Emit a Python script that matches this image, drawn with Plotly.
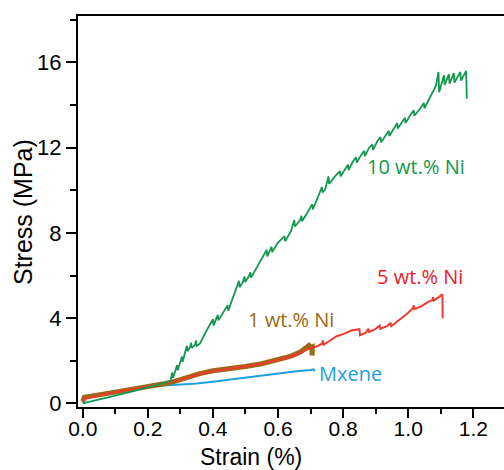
import plotly.graph_objects as go

# Tensile stress-strain curves of MXene films with different Ni loadings
mx_strain = [0.000, 0.003, 0.050, 0.100, 0.150, 0.200, 0.250, 0.300, 0.350, 0.400,
             0.450, 0.500, 0.550, 0.600, 0.650, 0.700, 0.710, 0.712]
mx_stress = [0.05, 0.35, 0.45, 0.56, 0.68, 0.78, 0.84, 0.87, 0.93, 1.02,
             1.12, 1.22, 1.32, 1.42, 1.50, 1.57, 1.60, 1.50]

ni1_strain = [0.000, 0.005, 0.050, 0.100, 0.150, 0.200, 0.250, 0.280, 0.300, 0.330,
              0.360, 0.400, 0.450, 0.500, 0.550, 0.600, 0.640, 0.670, 0.690, 0.695,
              0.700, 0.705, 0.705]
ni1_stress = [0.10, 0.28, 0.40, 0.52, 0.65, 0.79, 0.92, 1.02, 1.12, 1.26,
              1.40, 1.53, 1.62, 1.73, 1.86, 2.05, 2.22, 2.42, 2.62, 2.72,
              2.62, 2.65, 2.25]

ni5_strain = [0.000, 0.005, 0.050, 0.100, 0.150, 0.200, 0.250, 0.280, 0.290, 0.300,
              0.330, 0.360, 0.400, 0.450, 0.500, 0.550, 0.600, 0.640, 0.670, 0.700,
              0.720, 0.735, 0.738, 0.740, 0.760, 0.780, 0.800, 0.825, 0.850, 0.852,
              0.870, 0.878, 0.880, 0.900, 0.912, 0.914, 0.935, 0.946, 0.948, 0.965,
              0.980, 1.000, 1.015, 1.017, 1.019, 1.040, 1.060, 1.074, 1.076, 1.078,
              1.095, 1.105, 1.106]
ni5_stress = [0.05, 0.22, 0.38, 0.52, 0.66, 0.80, 0.92, 1.00, 1.05, 1.09,
              1.24, 1.38, 1.51, 1.62, 1.72, 1.86, 2.03, 2.20, 2.40, 2.60,
              2.68, 2.80, 2.95, 2.75, 2.95, 3.15, 3.25, 3.42, 3.48, 3.20,
              3.32, 3.50, 3.35, 3.50, 3.65, 3.50, 3.62, 3.78, 3.62, 3.82,
              4.00, 4.25, 4.48, 4.60, 4.42, 4.55, 4.75, 4.85, 4.98, 4.82,
              5.00, 5.12, 4.00]

ni10_strain = [0.000, 0.050, 0.100, 0.150, 0.200, 0.250, 0.270, 0.275, 0.278, 0.285,
               0.290, 0.292, 0.300, 0.305, 0.307, 0.315, 0.320, 0.322, 0.330, 0.333,
               0.335, 0.345, 0.348, 0.350, 0.360, 0.380, 0.400, 0.402, 0.410, 0.415,
               0.417, 0.430, 0.445, 0.447, 0.460, 0.480, 0.482, 0.492, 0.497, 0.499,
               0.510, 0.515, 0.517, 0.540, 0.565, 0.567, 0.575, 0.580, 0.582, 0.600,
               0.620, 0.622, 0.640, 0.650, 0.652, 0.668, 0.672, 0.674, 0.690, 0.705,
               0.707, 0.720, 0.735, 0.737, 0.745, 0.755, 0.757, 0.775, 0.790, 0.792,
               0.805, 0.815, 0.817, 0.830, 0.840, 0.842, 0.855, 0.865, 0.867, 0.880,
               0.890, 0.892, 0.905, 0.915, 0.917, 0.930, 0.940, 0.942, 0.955, 0.966,
               0.968, 0.980, 0.990, 0.992, 1.005, 1.017, 1.019, 1.035, 1.048, 1.050,
               1.065, 1.075, 1.085, 1.093, 1.095, 1.110, 1.112, 1.125, 1.127, 1.140,
               1.142, 1.160, 1.162, 1.178, 1.180]
ni10_stress = [0.00, 0.17, 0.36, 0.55, 0.76, 0.96, 1.05, 1.45, 1.20, 1.55,
               1.80, 1.55, 1.95, 2.20, 1.95, 2.40, 2.70, 2.45, 2.65, 2.85,
               2.60, 2.75, 2.95, 2.70, 2.80, 3.40, 3.95, 3.65, 3.95, 4.15,
               3.90, 4.25, 4.60, 4.35, 4.90, 5.75, 5.45, 5.70, 5.95, 5.70,
               5.95, 6.15, 5.90, 6.50, 7.20, 6.90, 7.15, 7.35, 7.10, 7.55,
               7.85, 7.60, 8.10, 8.60, 8.30, 8.60, 8.80, 8.55, 8.95, 9.35,
               9.10, 9.55, 10.15, 9.90, 10.05, 10.65, 10.30, 10.65, 10.90, 10.65,
               11.00, 11.20, 10.95, 11.35, 11.55, 11.30, 11.65, 11.85, 11.60, 12.00,
               12.15, 11.90, 12.30, 12.50, 12.25, 12.60, 12.80, 12.55, 12.90, 13.15,
               12.90, 13.20, 13.40, 13.15, 13.50, 13.75, 13.50, 13.80, 14.10, 13.85,
               14.30, 14.60, 14.90, 15.55, 14.60, 15.40, 14.95, 15.45, 15.00, 15.50,
               15.05, 15.55, 15.15, 15.60, 14.30]

labels = ["Mxene", "1 wt.% Ni", "5 wt.% Ni", "10 wt.% Ni"]
colors = ["#1e9fe0", "#9a6a12", "#ee3b30", "#12984f"]
label_colors = ["#1e9fe0", "#9a6a12", "#e8202a", "#12984f"]

x_ticks = [0.0, 0.2, 0.4, 0.6, 0.8, 1.0, 1.2]
x_ticktext = ["0.0", "0.2", "0.4", "0.6", "0.8", "1.0", "1.2"]
y_ticks = [0, 4, 8, 12, 16]

fig = go.Figure()
series = [
    (mx_strain, mx_stress, 2),
    (ni1_strain, ni1_stress, 5),
    (ni5_strain, ni5_stress, 2),
    (ni10_strain, ni10_stress, 1.8),
]
for (xs, ys, w), name, c in zip(series, labels, colors):
    fig.add_trace(go.Scatter(x=xs, y=ys, mode="lines", name=name,
                             line=dict(color=c, width=w), showlegend=False))

# curve labels
label_pos = [(0.824, 1.42), (0.640, 3.96), (1.037, 5.97), (1.024, 11.14)]
for (lx, ly), text, c in zip(label_pos, labels, label_colors):
    fig.add_annotation(x=lx, y=ly, text=text, showarrow=False,
                       font=dict(family="Open Sans", size=20, color=c),
                       xanchor="center", yanchor="middle")

# axis titles
fig.add_annotation(x=(251 - 78) / 426, y=(407 - 457) / 391, xref="paper", yref="paper",
                   text="Strain (%)", showarrow=False, xanchor="center", yanchor="middle",
                   font=dict(family="Liberation Sans", size=23, color="black"))
fig.add_annotation(x=(23 - 78) / 426, y=(407 - 212) / 391, xref="paper", yref="paper",
                   text="Stress (MPa)", showarrow=False, textangle=-90,
                   xanchor="center", yanchor="middle",
                   font=dict(family="Liberation Sans", size=25, color="black"))

fig.update_layout(
    width=504, height=470,
    margin=dict(l=78, r=0, t=16, b=63),
    paper_bgcolor="white", plot_bgcolor="white",
    xaxis=dict(range=[-0.0145, 1.2943], tickvals=x_ticks, ticktext=x_ticktext,
               ticks="outside", ticklen=9, tickwidth=1.5, tickcolor="black",
               ticklabelstandoff=-7,
               minor=dict(dtick=0.1, tick0=0, ticks="outside", ticklen=5,
                          tickwidth=1.5, tickcolor="black"),
               showline=True, linecolor="black", linewidth=2, mirror=True,
               showgrid=False, zeroline=False,
               tickfont=dict(family="Liberation Sans", size=21, color="black")),
    yaxis=dict(range=[-0.17, 18.18], tickvals=y_ticks,
               ticks="outside", ticklen=10, tickwidth=1.5, tickcolor="black",
               minor=dict(dtick=2, tick0=0, ticks="outside", ticklen=6,
                          tickwidth=1.5, tickcolor="black"),
               showline=True, linecolor="black", linewidth=2,
               showgrid=False, zeroline=False,
               tickfont=dict(family="Liberation Sans", size=22, color="black")),
)

fig.write_html("out.html")
